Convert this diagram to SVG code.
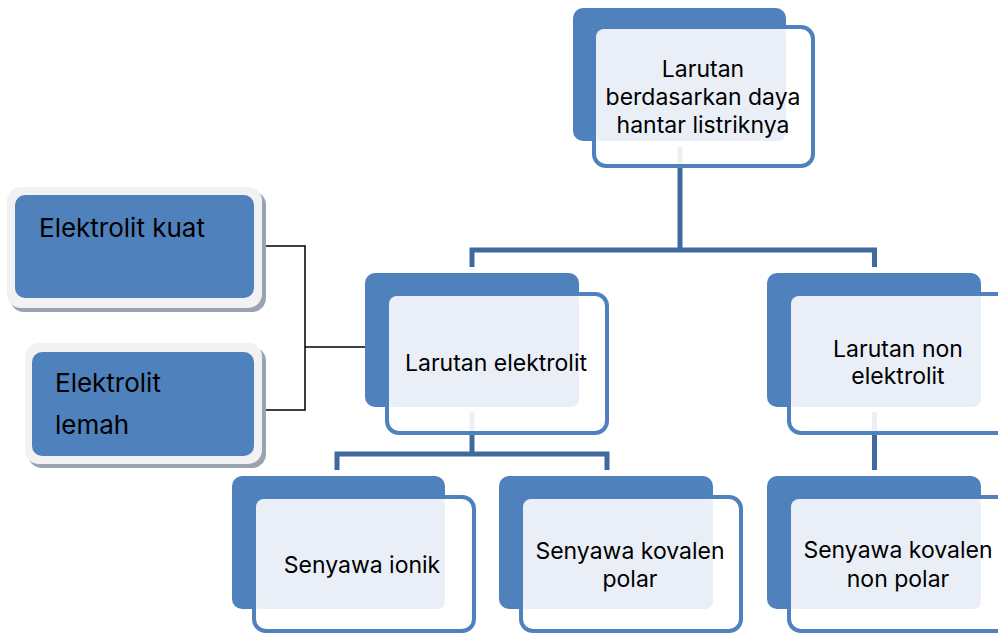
<svg xmlns="http://www.w3.org/2000/svg" width="998" height="634" viewBox="0 0 998 634">
<defs>
<style>
.back{fill:#4F81BD;}
.front{fill:#FFFFFF;fill-opacity:0.9;stroke:#4F81BD;stroke-width:4;}
.light{fill:#EAEFF7;}
.conn{fill:none;stroke:#3F6A9E;stroke-width:5;}
.thin{fill:none;stroke:#000;stroke-width:1.5;}
.frame{fill:#F2F2F2;}
.shadow{fill:#9AA4B1;}
.blue{fill:#4F81BD;}
text{font-family:Inter,"Open Sans","Liberation Sans",sans-serif;font-size:23px;fill:#000;}
.c{text-anchor:middle;}
.big{font-size:26px;}
</style>
</defs>
<g id="connectors">
<path class="conn" d="M680,147 V250 M472,267 V250 H874.5 V267"/>
<path class="conn" d="M472,412 V454 M337,470 V454 H607 V470"/>
<path class="conn" d="M874.5,412 V470"/>
<path class="thin" d="M258,246 H305 V410 H258 M305,347 H378"/>
</g>
<g id="n-top">
<rect class="back" x="573" y="8" width="213" height="133" rx="10"/>
<rect class="front" x="594" y="27" width="219" height="139" rx="12"/>
<rect class="light" x="596" y="29" width="190" height="112" rx="8"/>
<text class="c" x="703" y="77">Larutan</text>
<text class="c" x="703" y="105">berdasarkan daya</text>
<text class="c" x="703" y="133">hantar listriknya</text>
</g>
<g id="n-elektrolit">
<rect class="back" x="365" y="273" width="214" height="134" rx="10"/>
<rect class="front" x="387" y="294" width="220" height="139" rx="12"/>
<rect class="light" x="389" y="296" width="190" height="111" rx="8"/>
<text class="c" x="496" y="371">Larutan elektrolit</text>
</g>
<g id="n-nonelektrolit">
<rect class="back" x="767" y="273" width="214" height="134" rx="10"/>
<rect class="front" x="789" y="294" width="220" height="139" rx="12"/>
<rect class="light" x="791" y="296" width="190" height="111" rx="8"/>
<text class="c" x="898" y="357">Larutan non</text>
<text class="c" x="898" y="384">elektrolit</text>
</g>
<g id="n-ionik">
<rect class="back" x="232" y="476" width="213" height="133" rx="10"/>
<rect class="front" x="254" y="497" width="220" height="134" rx="12"/>
<rect class="light" x="256" y="499" width="189" height="110" rx="8"/>
<text class="c" x="362" y="573">Senyawa ionik</text>
</g>
<g id="n-kovalen-polar">
<rect class="back" x="499" y="476" width="214" height="133" rx="10"/>
<rect class="front" x="521" y="497" width="220" height="134" rx="12"/>
<rect class="light" x="523" y="499" width="190" height="110" rx="8"/>
<text class="c" x="630" y="559">Senyawa kovalen</text>
<text class="c" x="630" y="587">polar</text>
</g>
<g id="n-kovalen-nonpolar">
<rect class="back" x="767" y="476" width="214" height="133" rx="10"/>
<rect class="front" x="789" y="497" width="220" height="134" rx="12"/>
<rect class="light" x="791" y="499" width="190" height="110" rx="8"/>
<text class="c" x="898" y="558">Senyawa kovalen</text>
<text class="c" x="898" y="587">non polar</text>
</g>
<g id="n-kuat">
<rect class="shadow" x="10" y="191" width="256" height="121" rx="14"/>
<rect class="frame" x="7" y="187" width="255" height="121" rx="14"/>
<rect class="blue" x="15" y="195" width="239" height="103" rx="10"/>
<text class="big" x="39" y="237">Elektrolit kuat</text>
</g>
<g id="n-lemah">
<rect class="shadow" x="28" y="347" width="238" height="121" rx="14"/>
<rect class="frame" x="25" y="343" width="237" height="121" rx="14"/>
<rect class="blue" x="32" y="352" width="222" height="104" rx="10"/>
<text class="big" x="55" y="392">Elektrolit</text>
<text class="big" x="55" y="434">lemah</text>
</g>
</svg>
